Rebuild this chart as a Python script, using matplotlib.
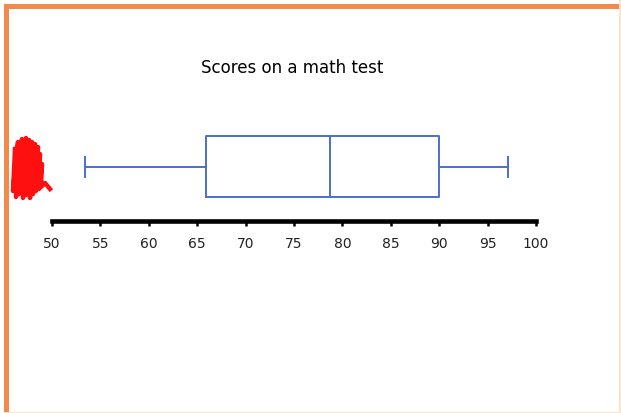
import matplotlib.pyplot as plt
from matplotlib.patches import Rectangle
from matplotlib.lines import Line2D

# five-number summary
score_min = 53.4
score_q1 = 65.9
score_med = 78.7
score_q3 = 90.0
score_max = 97.1

ticks = [50, 55, 60, 65, 70, 75, 80, 85, 90, 95, 100]

W, H = 621, 414
fig = plt.figure(figsize=(W / 100, H / 100), dpi=100)
fig.patch.set_facecolor('white')

# axes: x 50..100 mapped to px 52..536, axis line at px y=222
left, right = 52, 536
bottom, top = 222, 100
ax = fig.add_axes([left / W, 1 - bottom / H, (right - left) / W, (bottom - top) / H])
ax.set_xlim(50, 100)
ax.set_ylim(0, 1)

blue = '#4A6FCC'
stats = [dict(whislo=score_min, q1=score_q1, med=score_med, q3=score_q3,
              whishi=score_max, fliers=[])]
ax.bxp(stats, positions=[0.445], widths=0.5, orientation='horizontal',
       showfliers=False, capwidths=0.165,
       boxprops=dict(color=blue, linewidth=1.4),
       whiskerprops=dict(color=blue, linewidth=1.4),
       capprops=dict(color=blue, linewidth=1.4),
       medianprops=dict(color=blue, linewidth=1.4))

for s in ['top', 'left', 'right']:
    ax.spines[s].set_visible(False)
ax.spines['bottom'].set_linewidth(3.3)
ax.spines['bottom'].set_color('black')
ax.set_yticks([])
ax.set_xticks(ticks)
ax.set_xticklabels([str(t) for t in ticks])
ax.tick_params(axis='x', direction='out', length=3.5, width=1.8, color='black',
               labelsize=10, pad=7, labelcolor='#222222')
ax.set_facecolor('none')

fig.text(292 / W, 1 - 68 / H, 'Scores on a math test', ha='center', va='center',
         fontsize=12, color='black')

# orange frame
orange = '#F28A4C'
fig.patches.append(Rectangle((4 / W, 1 - 10 / H), 1, 5 / H, transform=fig.transFigure,
                             facecolor=orange, edgecolor='none'))
fig.patches.append(Rectangle((4 / W, 0), 5 / W, 1 - 5 / H, transform=fig.transFigure,
                             facecolor=orange, edgecolor='none'))
fig.patches.append(Rectangle((619 / W, 0), 1.5 / W, 1, transform=fig.transFigure,
                             facecolor='#FBE3CF', edgecolor='none'))
fig.patches.append(Rectangle((4 / W, 0), 1, 1.5 / H, transform=fig.transFigure,
                             facecolor='#FBE3CF', edgecolor='none'))

# red scribble on the left
scribble = [(15, 150), (13, 192), (18, 143), (16, 198), (22, 140), (19, 195),
            (26, 139), (23, 199), (29, 141), (26, 196), (32, 143), (30, 199),
            (35, 145), (33, 195), (38, 148), (36, 192), (40, 155), (39, 190),
            (42, 165), (41, 188), (45, 184), (50, 190)]
xs = [p[0] / W for p in scribble]
ys = [1 - p[1] / H for p in scribble]
fig.lines.append(Line2D(xs, ys, transform=fig.transFigure, color='#FF1010',
                        linewidth=3.2, solid_joinstyle='round'))

fig.savefig('out.png', dpi=100)
